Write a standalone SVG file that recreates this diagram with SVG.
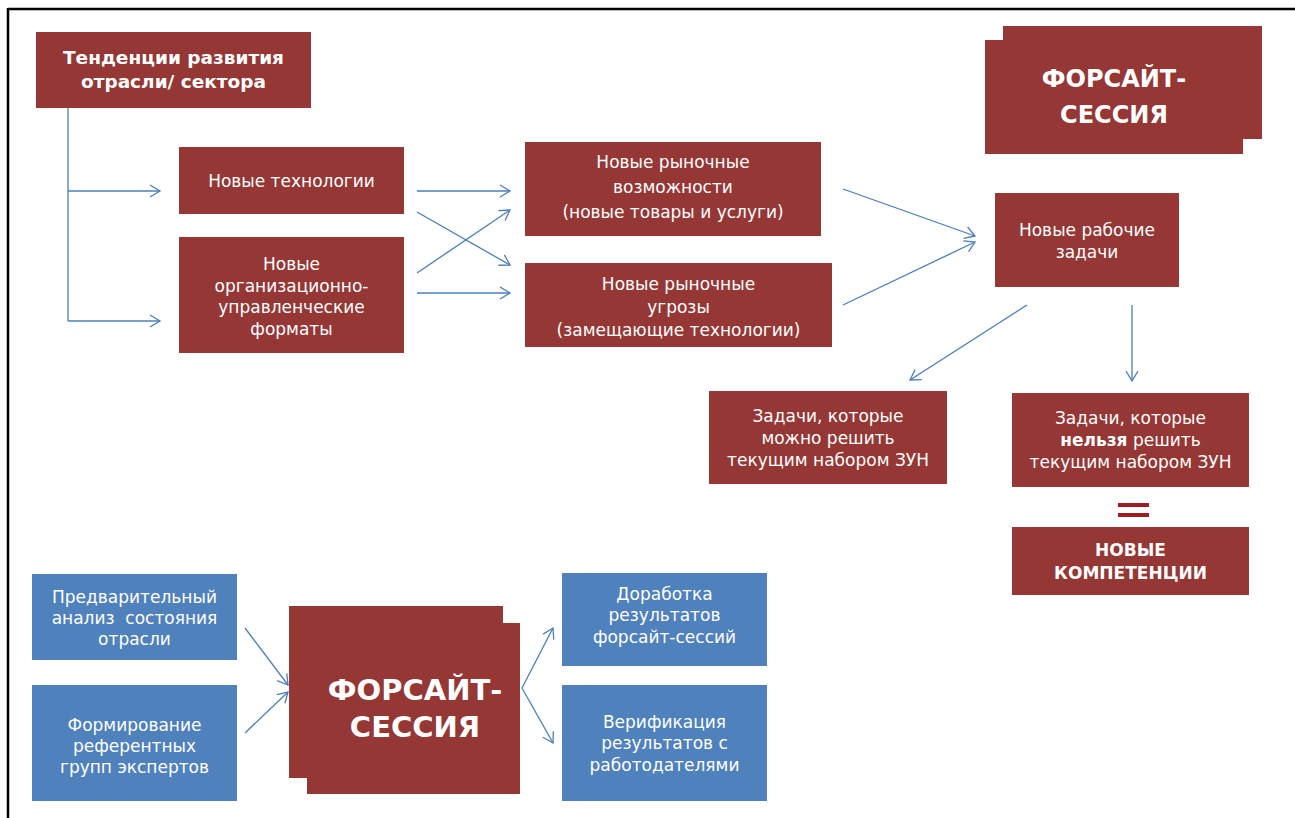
<svg xmlns="http://www.w3.org/2000/svg" width="1295" height="818" viewBox="0 0 1295 818">
<style>
.red{fill:#953735}
.blue{fill:#4f81bd}
.t{font-family:"DejaVu Sans",sans-serif;font-size:17px;fill:#ffffff;text-anchor:middle}
.b{font-weight:bold}
.con{stroke:#4a7ebb;stroke-width:1.3;fill:none}
.arr{marker-end:url(#ah)}
</style>
<defs>
<marker id="ah" markerUnits="userSpaceOnUse" markerWidth="14" markerHeight="14" refX="11" refY="7" orient="auto">
<path d="M1,1 L11,7 L1,13" fill="none" stroke="#4a7ebb" stroke-width="1.3"/>
</marker>
</defs>
<rect x="0" y="0" width="1295" height="818" fill="#ffffff"/>
<g id="frame">
<line x1="8" y1="9" x2="1295" y2="9" stroke="#000" stroke-width="2.5"/>
<line x1="8" y1="8" x2="8" y2="818" stroke="#000" stroke-width="2.5"/>
</g>
<g id="connectors">
<polyline class="con" points="68,108 68,321"/>
<line class="con arr" x1="68" y1="191" x2="160" y2="191"/>
<line class="con arr" x1="68" y1="321" x2="160" y2="321"/>
<line class="con arr" x1="417" y1="191" x2="510" y2="191"/>
<line class="con arr" x1="417" y1="293" x2="510" y2="293"/>
<line class="con arr" x1="417" y1="212" x2="510" y2="265"/>
<line class="con arr" x1="417" y1="273" x2="510" y2="210"/>
<line class="con arr" x1="843" y1="189" x2="975" y2="236"/>
<line class="con arr" x1="843" y1="305" x2="975" y2="242"/>
<line class="con arr" x1="1027" y1="305" x2="910" y2="380"/>
<line class="con arr" x1="1132" y1="305" x2="1132" y2="381"/>
<line class="con arr" x1="245" y1="628" x2="288" y2="685"/>
<line class="con arr" x1="245" y1="733" x2="288" y2="692"/>
<line class="con arr" x1="522" y1="688" x2="553" y2="628"/>
<line class="con arr" x1="522" y1="688" x2="553" y2="743"/>
</g>
<g id="trends">
<rect class="red" x="36" y="32" width="275" height="76"/>
<text class="t b" x="173.5" y="64" style="font-size:18.5px">Тенденции развития</text>
<text class="t b" x="173.5" y="88" style="font-size:18.5px">отрасли/ сектора</text>
</g>
<g id="tech">
<rect class="red" x="179" y="147" width="225" height="67"/>
<text class="t" x="291.5" y="187">Новые технологии</text>
</g>
<g id="org">
<rect class="red" x="179" y="237" width="225" height="116"/>
<text class="t" x="291.5" y="270">Новые</text>
<text class="t" x="291.5" y="291.5">организационно-</text>
<text class="t" x="291.5" y="313">управленческие</text>
<text class="t" x="291.5" y="334.5">форматы</text>
</g>
<g id="opportunities">
<rect class="red" x="525" y="142" width="296" height="94"/>
<text class="t" x="673" y="168">Новые рыночные</text>
<text class="t" x="673" y="193">возможности</text>
<text class="t" x="673" y="218">(новые товары и услуги)</text>
</g>
<g id="threats">
<rect class="red" x="525" y="263" width="307" height="84"/>
<text class="t" x="678.5" y="290">Новые рыночные</text>
<text class="t" x="678.5" y="313">угрозы</text>
<text class="t" x="678.5" y="336">(замещающие технологии)</text>
</g>
<g id="tasks">
<rect class="red" x="995" y="193" width="184" height="94"/>
<text class="t" x="1087" y="236">Новые рабочие</text>
<text class="t" x="1087" y="258">задачи</text>
</g>
<g id="can">
<rect class="red" x="709" y="391" width="238" height="93"/>
<text class="t" x="828" y="422">Задачи, которые</text>
<text class="t" x="828" y="444">можно решить</text>
<text class="t" x="828" y="466">текущим набором ЗУН</text>
</g>
<g id="cannot">
<rect class="red" x="1012" y="393" width="237" height="94"/>
<text class="t" x="1130.5" y="424">Задачи, которые</text>
<text class="t" x="1130.5" y="446"><tspan class="b">нельзя</tspan> решить</text>
<text class="t" x="1130.5" y="468">текущим набором ЗУН</text>
</g>
<g id="equals">
<rect x="1118" y="503" width="31" height="4" fill="#a01c22"/>
<rect x="1118" y="513" width="31" height="4" fill="#a01c22"/>
</g>
<g id="competencies">
<rect class="red" x="1012" y="527" width="237" height="68"/>
<text class="t b" x="1130.5" y="556">НОВЫЕ</text>
<text class="t b" x="1130.5" y="579">КОМПЕТЕНЦИИ</text>
</g>
<g id="foresight-top">
<rect class="red" x="985" y="40" width="258" height="114"/>
<rect class="red" x="1003" y="26" width="259" height="113"/>
<text class="t b" x="1114" y="87" style="font-size:24px">ФОРСАЙТ-</text>
<text class="t b" x="1114" y="123" style="font-size:24px">СЕССИЯ</text>
</g>
<g id="foresight-bottom">
<rect class="red" x="289" y="606" width="214" height="172"/>
<rect class="red" x="307" y="623" width="213" height="171"/>
<text class="t b" x="415" y="700" style="font-size:29px">ФОРСАЙТ-</text>
<text class="t b" x="415" y="737" style="font-size:29px">СЕССИЯ</text>
</g>
<g id="analysis">
<rect class="blue" x="32" y="574" width="205" height="86"/>
<text class="t" x="134.5" y="603">Предварительный</text>
<text class="t" x="134.5" y="624" xml:space="preserve">анализ  состояния</text>
<text class="t" x="134.5" y="645">отрасли</text>
</g>
<g id="experts">
<rect class="blue" x="32" y="685" width="205" height="116"/>
<text class="t" x="134.5" y="731">Формирование</text>
<text class="t" x="134.5" y="752">референтных</text>
<text class="t" x="134.5" y="773">групп экспертов</text>
</g>
<g id="refinement">
<rect class="blue" x="562" y="573" width="205" height="93"/>
<text class="t" x="664.5" y="600">Доработка</text>
<text class="t" x="664.5" y="621">результатов</text>
<text class="t" x="664.5" y="643">форсайт-сессий</text>
</g>
<g id="verification">
<rect class="blue" x="562" y="685" width="205" height="116"/>
<text class="t" x="664.5" y="728">Верификация</text>
<text class="t" x="664.5" y="749">результатов с</text>
<text class="t" x="664.5" y="771">работодателями</text>
</g>
</svg>
